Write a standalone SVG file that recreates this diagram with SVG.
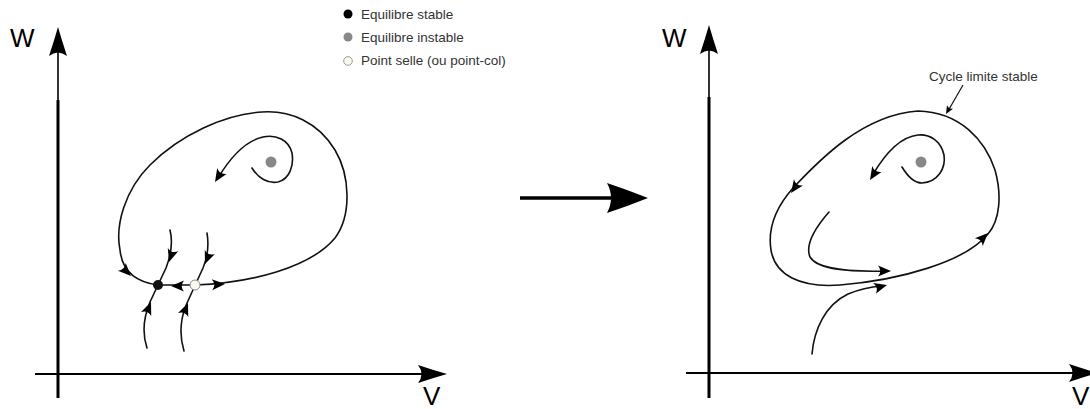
<svg xmlns="http://www.w3.org/2000/svg" xmlns:xlink="http://www.w3.org/1999/xlink" width="1090" height="409" viewBox="0 0 1090 409">
<style>
.ax{stroke:#000;fill:none}
.cv{stroke:#111;stroke-width:1.6;fill:none;stroke-linecap:round}
.lbl{font-family:"Liberation Sans",Arial,sans-serif;font-size:13.5px;fill:#333}
.axl{font-family:"Liberation Sans",Arial,sans-serif;font-size:26px;fill:#000}
.ah{fill:#000}
</style>
<defs>
<path id="axh" d="M0,0 Q-14,-4 -29,-9 Q-22,0 -29,9 Q-14,4 0,0 Z"/>
<path id="ah" d="M0,0 L-13,-5.5 Q-8.5,0 -13,5.5 Z"/>
<path id="sah" d="M0,0 L-8,-3.5 Q-5.5,0 -8,3.5 Z"/>
</defs>
<rect width="1090" height="409" fill="#fff"/>

<g id="legend">
<circle cx="348" cy="14" r="4.5" fill="#000"/>
<text class="lbl" x="361" y="19">Equilibre stable</text>
<circle cx="348" cy="37" r="4.5" fill="#888"/>
<text class="lbl" x="361" y="42">Equilibre instable</text>
<circle cx="348" cy="61" r="4.3" fill="#fafaf2" stroke="#999" stroke-width="1"/>
<text class="lbl" x="361" y="65">Point selle (ou point-col)</text>
</g>

<g id="left-axes">
<line class="ax" x1="58" y1="50" x2="58" y2="100" stroke-width="1.6"/>
<line class="ax" x1="58" y1="100" x2="58" y2="398" stroke-width="3"/>
<use href="#axh" class="ah" transform="translate(58,27) rotate(-90)"/>
<line class="ax" x1="35" y1="374" x2="440" y2="374" stroke-width="2"/>
<use href="#axh" class="ah" transform="translate(447,374)"/>
<text class="axl" x="10" y="47">W</text>
<text class="axl" x="423" y="405">V</text>
</g>

<g id="left-portrait">
<path class="cv" d="M195,285 C250,283 310,268 335,238 C352,215 350,175 335,150 C318,122 290,110 262,112 C225,114 180,135 150,165 C125,190 115,225 120,250 C122,270 135,282 158,285 L195,285"/>
<path class="cv" d="M170,230 C173,242 171,255 166,268 L150,302 C145,314 141,330 147,348"/>
<path class="cv" d="M207,233 C209,245 208,256 203,268 L187,303 C182,314 178,332 184,351"/>
<path class="cv" d="M252,168 C258,178 268,184 278,182 C290,179 294,165 292,153 C289,140 276,134 263,137 C245,141 230,158 218,178"/>
<use href="#ah" class="ah" transform="translate(225,284) rotate(-3)"/>
<use href="#ah" class="ah" transform="translate(131,276) rotate(45)"/>
<use href="#ah" class="ah" transform="translate(171,286) rotate(180)"/>
<use href="#ah" class="ah" transform="translate(169,262) rotate(108)"/>
<use href="#ah" class="ah" transform="translate(151,302) rotate(-68)"/>
<use href="#ah" class="ah" transform="translate(205,264) rotate(112)"/>
<use href="#ah" class="ah" transform="translate(188,303) rotate(-68)"/>
<use href="#ah" class="ah" transform="translate(215,182) rotate(122)"/>
</g>

<g id="left-points">
<circle id="stable" cx="158" cy="285" r="5" fill="#111"/>
<circle id="saddle" cx="195" cy="285" r="5" fill="#fafaf2" stroke="#888" stroke-width="1"/>
<circle id="unstable-left" cx="271" cy="162" r="5.5" fill="#888"/>
</g>

<g id="transition-arrow">
<line x1="520" y1="198" x2="615" y2="198" stroke="#000" stroke-width="3.5"/>
<path d="M648,198 Q628,190 607,183 Q615,198 607,213 Q628,206 648,198 Z" fill="#000"/>
</g>

<g id="right-axes">
<line class="ax" x1="709" y1="48" x2="709" y2="97" stroke-width="1.6"/>
<line class="ax" x1="709" y1="97" x2="709" y2="398" stroke-width="3"/>
<use href="#axh" class="ah" transform="translate(709,25) rotate(-90)"/>
<line class="ax" x1="686" y1="373" x2="1080" y2="373" stroke-width="2"/>
<use href="#axh" class="ah" transform="translate(1098,373)"/>
<text class="axl" x="662" y="47">W</text>
<text class="axl" x="1072" y="405">V</text>
</g>

<g id="right-portrait">
<path class="cv" d="M918,111 C960,112 985,140 995,170 C1002,195 1000,220 988,234 C965,262 900,280 840,285 C800,288 775,275 771,250 C767,225 778,205 793,188 C815,165 860,115 918,111 Z"/>
<path class="cv" d="M902,167 C908,177 915,183 922,183 C938,182 946,168 944,155 C941,141 930,134 918,135 C898,137 883,157 872,176"/>
<path class="cv" d="M829,212 C815,228 805,245 810,257 C818,270 850,272 886,271"/>
<path class="cv" d="M812,354 C814,330 825,305 848,294 C860,289 870,287 882,286"/>
<use href="#ah" class="ah" transform="translate(791,193) rotate(125)"/>
<use href="#ah" class="ah" transform="translate(988,233) rotate(-45)"/>
<use href="#ah" class="ah" transform="translate(870,180) rotate(122)"/>
<use href="#ah" class="ah" transform="translate(891,271) rotate(0)"/>
<use href="#ah" class="ah" transform="translate(887,285) rotate(-15)"/>
<circle id="unstable-right" cx="921" cy="162" r="5.5" fill="#888"/>
</g>

<g id="limit-cycle-label">
<text class="lbl" x="929" y="81">Cycle limite stable</text>
<line x1="963" y1="85" x2="948" y2="111" stroke="#111" stroke-width="1.2"/>
<use href="#sah" class="ah" transform="translate(946,114) rotate(120)"/>
</g>
</svg>
